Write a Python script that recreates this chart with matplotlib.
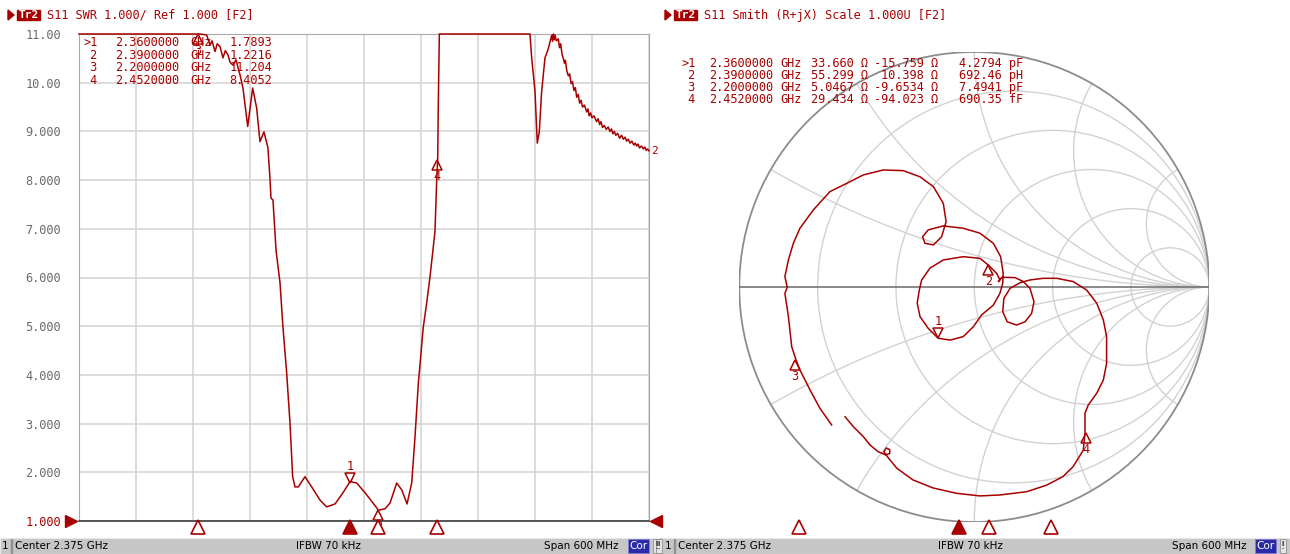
import matplotlib
matplotlib.use("Agg")
import matplotlib.pyplot as plt
import numpy as np
from matplotlib.patches import Rectangle, Circle
from matplotlib.transforms import offset_copy

W, H = 1290, 554
RED = "#a80000"
GRID = "#d2d2d2"
MONO = "DejaVu Sans Mono"
SANS = "DejaVu Sans"

# --- data --------------------------------------------------------------------
f_start, f_stop = 2.075, 2.675  # GHz (center 2.375, span 600 MHz)

swr_freq = [
    2.075, 2.2024, 2.2094, 2.2129, 2.2150, 2.2182, 2.2205, 2.2234, 2.2266, 2.2290,
    2.2318, 2.2340, 2.2371, 2.2403, 2.2425, 2.2445, 2.2476, 2.2526, 2.2578, 2.2620,
    2.2655, 2.2697, 2.2739, 2.2760, 2.2771, 2.2792, 2.2824, 2.2866, 2.2897, 2.2936,
    2.2971, 2.2999, 2.3024, 2.3058, 2.3129, 2.3199, 2.3287, 2.3357, 2.3445, 2.3529,
    2.3603, 2.3673, 2.3761, 2.3884, 2.3900, 2.3971, 2.4024, 2.4094, 2.4147, 2.4203,
    2.4252, 2.4287, 2.4322, 2.4374, 2.4410, 2.4445, 2.4497, 2.4515, 2.4526, 2.4532,
    2.4543, 2.5497, 2.5515, 2.5550, 2.5574, 2.5595, 2.5620, 2.5655, 2.5690, 2.5708,
    2.5725, 2.5735, 2.5743, 2.5752, 2.5760, 2.5775, 2.5795, 2.5808, 2.5820, 2.5835,
    2.5848, 2.5860, 2.5870, 2.5885, 2.5901, 2.5915, 2.5930, 2.5945, 2.5960, 2.5975,
    2.5989, 2.6005, 2.6020, 2.6035, 2.6050, 2.6070, 2.6094, 2.6108, 2.6120, 2.6135,
    2.6150, 2.6170, 2.6199, 2.6215, 2.6230, 2.6245, 2.6260, 2.6280, 2.6300, 2.6320,
    2.6339, 2.6355, 2.6370, 2.6385, 2.6400, 2.6420, 2.6440, 2.6460, 2.6480, 2.6498,
    2.6515, 2.6532, 2.6550, 2.6570, 2.6590, 2.6605, 2.6620, 2.6635, 2.6650, 2.6670,
    2.6690, 2.6705, 2.6720, 2.6735, 2.6750,
]
swr_vals = [
    11.0, 11.0, 10.98, 10.77, 10.86, 10.64, 10.80, 10.74, 10.51, 10.66,
    10.57, 10.42, 10.36, 10.47, 10.30, 10.16, 9.89, 9.10, 9.89, 9.48,
    8.79, 8.99, 8.66, 8.04, 7.63, 7.59, 6.56, 5.89, 4.98, 4.04,
    3.01, 1.91, 1.70, 1.70, 1.91, 1.70, 1.43, 1.29, 1.35, 1.58,
    1.81, 1.78, 1.58, 1.27, 1.22, 1.25, 1.37, 1.78, 1.64, 1.35,
    1.78, 2.73, 3.83, 4.98, 5.48, 6.02, 6.94, 7.97, 8.45, 9.54,
    11.0, 11.0, 10.51, 9.82, 8.76, 8.99, 9.82, 10.51, 10.70, 10.84,
    10.97, 10.85, 11.0, 10.88, 10.98, 10.86, 10.90, 10.72, 10.80, 10.58,
    10.50, 10.40, 10.46, 10.24, 10.14, 10.18, 9.98, 10.02, 9.84, 9.90,
    9.70, 9.76, 9.58, 9.64, 9.50, 9.54, 9.40, 9.46, 9.32, 9.38,
    9.28, 9.32, 9.20, 9.26, 9.14, 9.20, 9.08, 9.12, 9.04, 9.09,
    9.00, 9.05, 8.95, 9.00, 8.92, 8.96, 8.86, 8.92, 8.84, 8.88,
    8.80, 8.84, 8.76, 8.80, 8.72, 8.76, 8.70, 8.74, 8.66, 8.70,
    8.64, 8.68, 8.61, 8.64, 8.60,
]

# Smith chart trace, reflection coefficient (real, imag), in sweep order
gamma_re = [
    -0.607, -0.657, -0.699, -0.742, -0.759, -0.777, -0.791, -0.806, -0.796, -0.806,
    -0.791, -0.770, -0.742, -0.685, -0.614, -0.543, -0.472, -0.387, -0.302, -0.231,
    -0.174, -0.132, -0.120, -0.139, -0.174, -0.210, -0.220, -0.196, -0.132, -0.047,
    0.024, 0.081, 0.112, 0.123, 0.121, 0.109, 0.081, 0.031, -0.004, -0.047,
    -0.103, -0.154, -0.196, -0.231, -0.243, -0.234, -0.224, -0.189, -0.132, -0.047,
    0.024, 0.060, 0.095, 0.109, 0.102, 0.117, 0.138, 0.173, 0.209, 0.237,
    0.254, 0.244, 0.216, 0.180, 0.140, 0.121, 0.126, 0.152, 0.194, 0.237,
    0.294, 0.351, 0.421, 0.478, 0.521, 0.549, 0.563, 0.563, 0.549, 0.521,
    0.485, 0.471, 0.471, 0.464, 0.420, 0.377, 0.308, 0.223, 0.109, 0.024,
    -0.075, -0.176, -0.261, -0.330, -0.370, -0.385, -0.374, -0.360, -0.360, -0.379,
    -0.396, -0.409, -0.444, -0.472, -0.515, -0.550,
]
gamma_im = [
    -0.587, -0.516, -0.438, -0.353, -0.309, -0.254, -0.126, -0.027, -0.001, 0.044,
    0.115, 0.186, 0.250, 0.328, 0.406, 0.441, 0.477, 0.498, 0.495, 0.469,
    0.427, 0.356, 0.278, 0.214, 0.179, 0.186, 0.214, 0.243, 0.260, 0.250,
    0.229, 0.186, 0.129, 0.058, 0.016, -0.027, -0.077, -0.119, -0.169, -0.211,
    -0.226, -0.218, -0.176, -0.126, -0.069, -0.013, 0.030, 0.080, 0.115, 0.129,
    0.122, 0.093, 0.058, 0.030, 0.023, 0.041, 0.041, 0.040, 0.023, -0.006,
    -0.063, -0.112, -0.148, -0.162, -0.148, -0.105, -0.048, -0.006, 0.018, 0.030,
    0.037, 0.037, 0.023, -0.013, -0.069, -0.140, -0.211, -0.325, -0.396, -0.452,
    -0.502, -0.537, -0.620, -0.694, -0.765, -0.807, -0.843, -0.871, -0.885, -0.889,
    -0.878, -0.855, -0.821, -0.771, -0.722, -0.701, -0.685, -0.692, -0.709, -0.714,
    -0.706, -0.701, -0.672, -0.637, -0.594, -0.552,
]

# marker table
mk_labels = ["1", "2", "3", "4"]
mk_freq = [2.36, 2.39, 2.20, 2.452]
mk_swr = [1.7893, 1.2216, 11.204, 8.4052]
mk_r = [33.660, 55.299, 5.0467, 29.434]
mk_x = [-15.759, 10.398, -9.6534, -94.023]
mk_lc = ["4.2794 pF", "692.46 pH", "7.4941 pF", "690.35 fF"]
active = 0

swr_ticks = [11, 10, 9, 8, 7, 6, 5, 4, 3, 2, 1]
smith_r = [0.2, 0.5, 1.0, 2.0, 5.0]
# reactance arcs meet the rim every 30 degrees on this instrument's grid
smith_x = [0.268, 0.577, 1.0, 1.732, 3.732]


def fx(x):
    return x / W


def fy(y):
    return 1 - y / H


fig = plt.figure(figsize=(W / 100, H / 100), dpi=100)
fig.patch.set_facecolor("white")


def mtext(x, y, s, **kw):
    kw.setdefault("family", MONO)
    kw.setdefault("fontsize", 8.6)
    kw.setdefault("color", RED)
    kw.setdefault("va", "center")
    fig.text(fx(x), fy(y), s, **kw)


def box(x, y, w, h, **kw):
    fig.patches.append(Rectangle((fx(x), fy(y + h)), w / W, h / H,
                                 transform=fig.transFigure, **kw))


def header(x, title):
    fig.patches.append(plt.Polygon([[fx(x), fy(10)], [fx(x), fy(20)], [fx(x + 6), fy(15)]],
                                   closed=True, color=RED, transform=fig.transFigure))
    box(x + 9, 10, 23, 10, color=RED)
    mtext(x + 20.5, 15, "Tr2", color="white", ha="center", fontsize=8, weight="bold")
    mtext(x + 39, 15, title)


def flag(ax, x, y, label, above):
    base = ax.transData
    if above:
        ax.plot([x], [y], marker="v", ms=7, mfc="white", mec=RED, mew=1.1,
                transform=offset_copy(base, fig=fig, x=0, y=5, units="dots"), clip_on=False)
        ax.text(x, y, label, color=RED, family=MONO, fontsize=8.5, ha="center", va="bottom",
                transform=offset_copy(base, fig=fig, x=0, y=10, units="dots"))
    else:
        ax.plot([x], [y], marker="^", ms=7, mfc="white", mec=RED, mew=1.1,
                transform=offset_copy(base, fig=fig, x=0, y=-5, units="dots"), clip_on=False)
        ax.text(x, y, label, color=RED, family=MONO, fontsize=8.5, ha="center", va="top",
                transform=offset_copy(base, fig=fig, x=0, y=-10, units="dots"))


def stimulus(ax):
    for i, f in enumerate(mk_freq):
        filled = i == active
        ax.plot([f], [0], marker="^", ms=10, mfc=RED if filled else "white", mec=RED,
                mew=1.2, clip_on=False, zorder=5 if filled else 4,
                transform=offset_copy(ax.get_xaxis_transform(), fig=fig, x=0, y=-6,
                                      units="dots"))


# --- left: SWR -----------------------------------------------------------------
ax = fig.add_axes([fx(79), fy(521), 570 / W, 487 / H])
ax.set_xlim(f_start, f_stop)
ax.set_ylim(1, 11)
ax.set_xticks(np.linspace(f_start, f_stop, 11))
ax.set_xticklabels([])
ax.set_yticks(swr_ticks)
ax.set_yticklabels([f"{t:.2f}" if t >= 10 else f"{t:.3f}" for t in swr_ticks],
                   family=MONO, fontsize=8.6)
for lbl, t in zip(ax.get_yticklabels(), swr_ticks):
    lbl.set_color(RED if t == 1 else "#6a6a6a")
ax.tick_params(length=0, pad=13)
ax.grid(True, color=GRID, lw=1.1)
for side in ("left", "top", "right"):
    ax.spines[side].set_color("#a8a8a8")
ax.spines["bottom"].set_color("#3c3c3c")
ax.spines["bottom"].set_linewidth(1.2)
ax.plot(swr_freq, swr_vals, color=RED, lw=1.1, clip_on=False, zorder=3)

for i, (lab, f, s) in enumerate(zip(mk_labels, mk_freq, mk_swr)):
    flag(ax, f, min(s, 11), lab, above=(i == active))
stimulus(ax)
ax.plot([f_start], [1], marker=">", ms=9, color=RED, clip_on=False,
        transform=offset_copy(ax.transData, fig=fig, x=-8, y=0, units="dots"))
ax.plot([f_stop], [1], marker="<", ms=9, color=RED, clip_on=False,
        transform=offset_copy(ax.transData, fig=fig, x=7, y=0, units="dots"))
ax.text(f_stop, swr_vals[-1], "2", color=RED, family=MONO, fontsize=8, va="center",
        transform=offset_copy(ax.transData, fig=fig, x=2, y=0, units="dots"))

header(8, "S11 SWR 1.000/ Ref 1.000 [F2]")
for row, (lab, f, s) in enumerate(zip(mk_labels, mk_freq, mk_swr)):
    y = 43 + row * 12.4
    mtext(83, y, (">" if row == active else " ") + lab)
    mtext(115, y, f"{f:.7f}")
    mtext(190, y, "GHz")
    mtext(272, y, f"{s:#.5g}", ha="right")

# --- right: Smith chart --------------------------------------------------------
sx = fig.add_axes([fx(739.3), fy(522), 470 / W, 470 / H])
sx.set_xlim(-1, 1)
sx.set_ylim(-1, 1)
sx.set_aspect("equal")
sx.axis("off")
unit = Circle((0, 0), 1, transform=sx.transData, fill=False)
for r in smith_r:
    sx.add_patch(Circle((r / (1 + r), 0), 1 / (1 + r), fill=False, ec=GRID, lw=1.0))
for x in smith_x:
    for sgn in (1, -1):
        arc = Circle((1, sgn / x), 1 / x, fill=False, ec=GRID, lw=1.0)
        sx.add_patch(arc)
        arc.set_clip_path(unit)
sx.add_patch(Circle((0, 0), 1, fill=False, ec="#8c8c8c", lw=1.3, zorder=2))
sx.plot([-1, 1], [0, 0], color="#6a6a6a", lw=1.1, zorder=2)
sx.plot(gamma_re, gamma_im, color=RED, lw=1.1, zorder=3)

for i, (lab, r, x) in enumerate(zip(mk_labels, mk_r, mk_x)):
    z = complex(r, x) / 50.0
    g = (z - 1) / (z + 1)
    flag(sx, g.real, g.imag, lab, above=(i == active))

stim = fig.add_axes([fx(674), fy(521), 600 / W, 10 / H])
stim.set_xlim(f_start, f_stop)
stim.set_ylim(0, 1)
stim.axis("off")
stimulus(stim)

header(665, "S11 Smith (R+jX) Scale 1.000U [F2]")
for row, (lab, f, r, x, lc) in enumerate(zip(mk_labels, mk_freq, mk_r, mk_x, mk_lc)):
    y = 63 + row * 12.2
    mtext(681, y, (">" if row == active else " ") + lab)
    mtext(709, y, f"{f:.7f}")
    mtext(780, y, "GHz")
    mtext(868, y, f"{r:#.5g} Ω", ha="right")
    mtext(938, y, f"{x:#.5g} Ω", ha="right")
    mtext(1023, y, lc, ha="right")

# --- status bars ----------------------------------------------------------------
ST = dict(family=SANS, fontsize=7.5, color="black")
TY = 546
box(0, 538, 1290, 16, fc="#c6c6c6", ec="none")
box(0, 538, 659, 16, fc="#c6c6c6", ec="#e8e8e8", lw=0.8)
box(662, 538, 628, 16, fc="#c6c6c6", ec="#e8e8e8", lw=0.8)


def bang(x):
    box(x, 539, 6, 14, fc="#e4e4e4", ec="#909090", lw=0.6)
    mtext(x + 3, TY, "!", ha="center", **ST)


def status(x1, centre, span_end, cor_x):
    mtext(x1, TY, "1", **ST)
    box(x1 + 9, 539, 0.8, 14, color="#909090")
    mtext(x1 + 13, TY, "Center 2.375 GHz", **ST)
    mtext(centre, TY, "IFBW 70 kHz", ha="center", **ST)
    mtext(span_end, TY, "Span 600 MHz", ha="right", **ST)
    box(cor_x, 539, 21, 14, fc="#2b2ba8", ec="#8080d0", lw=0.6)
    mtext(cor_x + 10.5, TY, "Cor", ha="center", **{**ST, "color": "white"})
    bang(cor_x + 25)


status(2, 328, 619, 628)
bang(656)
status(665, 970, 1246, 1255)

fig.savefig("out.png", dpi=100, facecolor="white")
